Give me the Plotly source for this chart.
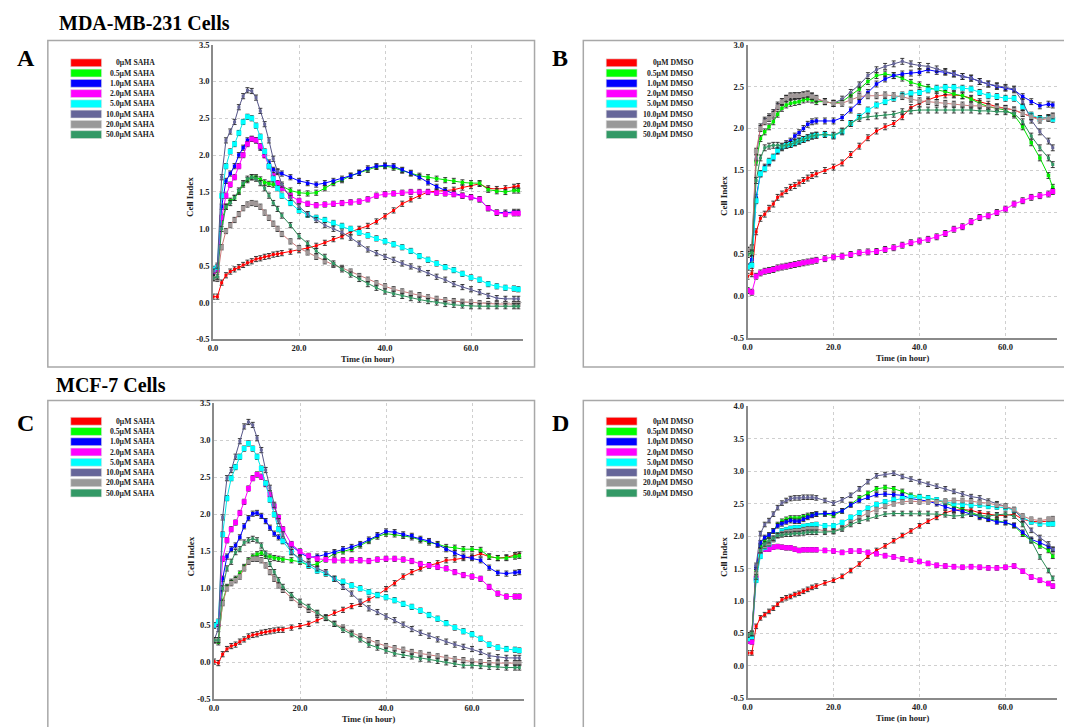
import plotly.graph_objects as go

W, H = 1072, 727
OFF = 8  # default page body margin

# ---------------- data ----------------
T = [0, 1, 2, 3, 4, 5, 6, 7, 8, 9, 10, 11, 12, 13, 14, 15, 16,
     18, 20, 22, 24, 26, 28, 30, 32, 34, 36, 38, 40, 42, 44, 46, 48, 50,
     52, 54, 56, 58, 60, 62, 64, 66, 68, 70, 71]

X_TICKS = [0, 20, 40, 60]
X_TICK_TEXT = ["0.0", "20.0", "40.0", "60.0"]

CONC = ["0", "0.5", "1.0", "2.0", "5.0", "10.0", "20.0", "50.0"]
SAHA_LABELS = [c + "μM SAHA" for c in CONC]
DMSO_LABELS = [c + "μM DMSO" for c in CONC]

# Panel A: MDA-MB-231, SAHA
A_0 = [0.08,0.08,0.27,0.37,0.42,0.45,0.48,0.51,0.54,0.56,0.59,0.60,0.62,0.63,0.65,0.66,0.67,
       0.69,0.71,0.74,0.77,0.81,0.86,0.90,0.96,1.00,1.04,1.10,1.17,1.25,1.34,1.40,1.45,1.50,
       1.51,1.52,1.53,1.56,1.58,1.61,1.55,1.54,1.55,1.57,1.58]
A_05 = [0.35,0.45,1.10,1.30,1.38,1.42,1.50,1.60,1.66,1.70,1.70,1.67,1.63,1.61,1.60,1.59,1.58,
        1.52,1.49,1.48,1.49,1.55,1.62,1.66,1.72,1.76,1.80,1.84,1.85,1.83,1.79,1.75,1.72,1.70,
        1.68,1.66,1.65,1.63,1.62,1.62,1.53,1.51,1.50,1.52,1.52]
A_1 = [0.40,0.45,1.30,1.65,1.75,1.85,2.00,2.10,2.20,2.22,2.20,2.10,2.00,1.90,1.80,1.77,1.75,
       1.70,1.65,1.62,1.60,1.62,1.65,1.68,1.72,1.76,1.82,1.85,1.86,1.85,1.80,1.76,1.70,1.63,
       1.57,1.52,1.48,1.45,1.43,1.40,1.28,1.22,1.22,1.23,1.23]
A_2 = [0.42,0.45,1.15,1.45,1.60,1.70,1.85,2.00,2.15,2.22,2.20,2.12,2.00,1.85,1.72,1.62,1.55,
       1.45,1.38,1.34,1.32,1.33,1.34,1.35,1.36,1.37,1.40,1.45,1.47,1.48,1.49,1.50,1.50,1.50,
       1.49,1.48,1.47,1.45,1.43,1.40,1.28,1.22,1.20,1.21,1.21]
A_5 = [0.45,0.48,1.45,1.85,2.05,2.15,2.30,2.45,2.52,2.50,2.40,2.25,2.05,1.85,1.68,1.55,1.45,
       1.35,1.25,1.19,1.15,1.12,1.08,1.04,1.00,0.95,0.91,0.87,0.83,0.79,0.75,0.70,0.63,0.58,
       0.53,0.48,0.44,0.39,0.34,0.31,0.25,0.22,0.20,0.19,0.18]
A_10 = [0.42,0.50,1.70,2.20,2.32,2.45,2.65,2.80,2.88,2.87,2.78,2.60,2.42,2.20,1.95,1.78,1.60,
        1.42,1.30,1.20,1.12,1.05,1.00,0.95,0.88,0.80,0.72,0.67,0.62,0.58,0.53,0.49,0.45,0.40,
        0.35,0.31,0.25,0.21,0.18,0.14,0.09,0.06,0.05,0.05,0.05]
A_20 = [0.33,0.32,0.75,0.97,1.05,1.12,1.20,1.28,1.33,1.35,1.34,1.30,1.22,1.15,1.07,1.00,0.93,
        0.83,0.74,0.68,0.62,0.56,0.51,0.47,0.42,0.36,0.31,0.26,0.22,0.18,0.15,0.12,0.10,0.07,
        0.05,0.03,0.02,0.01,0.00,-0.01,-0.02,-0.02,-0.02,-0.02,-0.02]
A_50 = [0.33,0.35,1.00,1.30,1.35,1.42,1.52,1.62,1.68,1.70,1.68,1.62,1.55,1.45,1.35,1.27,1.18,
        1.05,0.90,0.80,0.70,0.62,0.53,0.45,0.38,0.32,0.25,0.20,0.15,0.12,0.09,0.06,0.04,0.02,
        0.00,-0.02,-0.03,-0.04,-0.05,-0.05,-0.05,-0.05,-0.05,-0.05,-0.05]

# Panel B: MDA-MB-231, DMSO
B_0 = [0.24,0.27,0.77,0.93,0.98,1.05,1.10,1.18,1.22,1.26,1.30,1.32,1.35,1.38,1.41,1.44,1.46,
       1.50,1.54,1.59,1.69,1.79,1.89,1.97,2.02,2.06,2.14,2.25,2.30,2.34,2.38,2.40,2.40,2.39,
       2.36,2.32,2.29,2.26,2.24,2.22,2.18,2.14,2.12,2.13,2.14]
B_05 = [0.50,0.52,1.60,1.88,1.96,2.02,2.08,2.17,2.24,2.28,2.30,2.31,2.32,2.34,2.35,2.34,2.32,
        2.32,2.30,2.32,2.39,2.47,2.56,2.63,2.65,2.63,2.60,2.55,2.52,2.49,2.46,2.44,2.41,2.39,
        2.35,2.30,2.26,2.24,2.22,2.16,2.02,1.83,1.65,1.44,1.30]
B_1 = [0.35,0.44,1.18,1.46,1.54,1.59,1.65,1.73,1.77,1.82,1.85,1.91,1.95,2.00,2.05,2.08,2.09,
       2.09,2.09,2.13,2.22,2.32,2.43,2.53,2.59,2.63,2.65,2.66,2.67,2.70,2.68,2.67,2.65,2.62,
       2.60,2.56,2.53,2.50,2.48,2.46,2.38,2.32,2.27,2.29,2.28]
B_2 = [0.07,0.05,0.24,0.28,0.30,0.31,0.32,0.34,0.35,0.36,0.37,0.38,0.39,0.40,0.41,0.42,0.43,
       0.45,0.47,0.48,0.50,0.52,0.53,0.535,0.56,0.58,0.61,0.64,0.66,0.68,0.71,0.75,0.80,0.83,
       0.89,0.94,0.96,1.00,1.04,1.10,1.14,1.18,1.20,1.22,1.25]
B_5 = [0.35,0.37,1.14,1.46,1.52,1.61,1.66,1.74,1.78,1.80,1.81,1.83,1.85,1.87,1.89,1.91,1.92,
       1.93,1.91,1.96,2.06,2.14,2.22,2.28,2.32,2.36,2.40,2.42,2.43,2.46,2.48,2.49,2.49,2.48,
       2.47,2.43,2.39,2.38,2.36,2.36,2.26,2.16,2.12,2.13,2.11]
B_10 = [0.55,0.57,1.65,2.02,2.10,2.14,2.19,2.28,2.32,2.36,2.38,2.39,2.39,2.40,2.41,2.39,2.35,
        2.32,2.30,2.35,2.43,2.52,2.63,2.70,2.74,2.77,2.80,2.77,2.75,2.74,2.71,2.68,2.65,2.62,
        2.60,2.56,2.53,2.51,2.49,2.47,2.32,2.10,1.96,1.85,1.77]
B_20 = [0.55,0.58,1.73,2.00,2.08,2.12,2.17,2.26,2.32,2.36,2.39,2.39,2.39,2.40,2.41,2.38,2.36,
        2.32,2.30,2.30,2.34,2.38,2.39,2.39,2.40,2.39,2.38,2.35,2.33,2.32,2.31,2.30,2.29,2.28,
        2.27,2.27,2.26,2.25,2.24,2.22,2.18,2.14,2.10,2.12,2.15]
B_50 = [0.50,0.52,1.38,1.65,1.77,1.79,1.80,1.80,1.79,1.80,1.81,1.83,1.85,1.87,1.89,1.91,1.92,
        1.93,1.92,1.97,2.06,2.12,2.14,2.15,2.16,2.17,2.20,2.21,2.22,2.22,2.22,2.22,2.22,2.22,
        2.22,2.21,2.21,2.20,2.20,2.18,2.08,1.91,1.77,1.65,1.57]

# Panel C: MCF-7, SAHA
C_0 = [0.01,-0.01,0.11,0.18,0.22,0.24,0.28,0.31,0.35,0.37,0.38,0.40,0.41,0.42,0.43,0.44,0.44,
       0.47,0.49,0.52,0.57,0.61,0.67,0.71,0.76,0.79,0.85,0.91,0.99,1.07,1.16,1.22,1.27,1.31,
       1.34,1.38,1.39,1.41,1.43,1.47,1.43,1.41,1.42,1.45,1.46]
C_05 = [0.30,0.27,0.82,1.02,1.09,1.13,1.20,1.29,1.38,1.43,1.46,1.48,1.44,1.43,1.41,1.40,1.39,
        1.38,1.36,1.31,1.33,1.40,1.47,1.50,1.53,1.58,1.64,1.70,1.74,1.73,1.71,1.69,1.65,1.62,
        1.60,1.56,1.55,1.53,1.53,1.52,1.43,1.41,1.41,1.43,1.44]
C_1 = [0.50,0.53,1.13,1.43,1.53,1.58,1.69,1.84,1.95,2.01,2.02,1.98,1.91,1.82,1.74,1.69,1.64,
       1.58,1.48,1.42,1.43,1.46,1.49,1.53,1.56,1.60,1.66,1.72,1.77,1.76,1.73,1.71,1.67,1.64,
       1.59,1.53,1.48,1.43,1.41,1.38,1.28,1.21,1.20,1.21,1.22]
C_2 = [0.50,0.53,1.40,1.65,1.80,1.89,2.02,2.17,2.35,2.49,2.54,2.51,2.41,2.27,2.11,1.96,1.80,
       1.60,1.50,1.44,1.40,1.39,1.38,1.38,1.38,1.38,1.37,1.39,1.40,1.40,1.39,1.37,1.33,1.31,
       1.29,1.27,1.22,1.18,1.16,1.13,1.02,0.93,0.89,0.89,0.89]
C_5 = [0.50,0.55,1.73,2.22,2.49,2.64,2.78,2.89,2.96,2.89,2.78,2.62,2.42,2.20,2.00,1.80,1.64,
       1.49,1.38,1.31,1.24,1.20,1.13,1.09,1.04,1.00,0.95,0.91,0.88,0.84,0.79,0.75,0.70,0.64,
       0.59,0.53,0.47,0.42,0.38,0.32,0.24,0.20,0.18,0.17,0.16]
C_10 = [0.30,0.45,1.96,2.49,2.60,2.78,2.99,3.19,3.25,3.21,3.03,2.87,2.60,2.36,2.13,1.91,1.73,
        1.49,1.40,1.33,1.27,1.22,1.13,1.02,0.93,0.82,0.73,0.68,0.62,0.57,0.51,0.45,0.40,0.36,
        0.31,0.28,0.24,0.21,0.18,0.14,0.09,0.07,0.06,0.06,0.06]
C_20 = [0.30,0.30,0.80,1.00,1.07,1.11,1.16,1.27,1.36,1.40,1.40,1.38,1.31,1.22,1.13,1.04,0.98,
        0.87,0.78,0.71,0.66,0.60,0.52,0.47,0.40,0.35,0.30,0.26,0.22,0.19,0.17,0.14,0.12,0.10,
        0.08,0.06,0.04,0.03,0.01,0.00,-0.01,-0.01,-0.01,-0.01,-0.01]
C_50 = [0.30,0.30,1.00,1.27,1.36,1.49,1.53,1.62,1.65,1.67,1.65,1.58,1.47,1.33,1.22,1.11,1.02,
        0.91,0.82,0.75,0.67,0.60,0.52,0.44,0.38,0.31,0.24,0.20,0.16,0.12,0.10,0.08,0.05,0.04,
        0.02,0.00,-0.02,-0.04,-0.04,-0.05,-0.06,-0.06,-0.07,-0.07,-0.07]

# Panel D: MCF-7, DMSO
D_0 = [0.20,0.20,0.61,0.74,0.79,0.84,0.89,0.95,1.02,1.05,1.07,1.10,1.12,1.15,1.18,1.21,1.23,
       1.28,1.32,1.38,1.47,1.57,1.69,1.78,1.85,1.93,2.01,2.08,2.16,2.23,2.29,2.36,2.40,2.41,
       2.40,2.36,2.34,2.32,2.32,2.34,2.26,2.23,2.22,2.23,2.24]
D_05 = [0.45,0.48,1.45,1.85,1.93,2.01,2.08,2.18,2.23,2.26,2.28,2.28,2.28,2.30,2.32,2.33,2.34,
        2.34,2.32,2.39,2.49,2.59,2.66,2.73,2.75,2.73,2.69,2.63,2.61,2.59,2.56,2.51,2.46,2.41,
        2.36,2.31,2.27,2.24,2.21,2.16,2.03,1.93,1.85,1.78,1.69]
D_1 = [0.42,0.45,1.52,1.90,1.98,2.02,2.08,2.16,2.19,2.22,2.24,2.23,2.23,2.26,2.29,2.32,2.34,
       2.35,2.35,2.39,2.48,2.55,2.60,2.64,2.65,2.64,2.63,2.58,2.56,2.54,2.50,2.45,2.41,2.38,
       2.34,2.29,2.26,2.22,2.21,2.17,2.06,1.95,1.90,1.84,1.79]
D_2 = [0.38,0.37,1.35,1.75,1.80,1.80,1.83,1.84,1.83,1.82,1.82,1.80,1.78,1.79,1.79,1.79,1.79,
       1.78,1.77,1.75,1.77,1.77,1.75,1.73,1.70,1.68,1.65,1.63,1.61,1.58,1.55,1.54,1.53,1.52,
       1.53,1.52,1.51,1.51,1.52,1.54,1.46,1.37,1.32,1.27,1.23]
D_5 = [0.42,0.45,1.32,1.69,1.83,1.88,1.95,2.02,2.08,2.10,2.12,2.13,2.13,2.15,2.16,2.17,2.18,
       2.16,2.16,2.21,2.29,2.36,2.43,2.49,2.53,2.56,2.58,2.60,2.60,2.59,2.56,2.53,2.50,2.49,
       2.48,2.48,2.46,2.45,2.44,2.40,2.29,2.22,2.19,2.19,2.19]
D_10 = [0.48,0.50,1.55,2.04,2.18,2.24,2.34,2.44,2.51,2.55,2.58,2.59,2.59,2.60,2.60,2.60,2.59,
        2.55,2.51,2.56,2.63,2.73,2.84,2.93,2.95,2.97,2.92,2.88,2.84,2.80,2.77,2.73,2.69,2.65,
        2.61,2.59,2.54,2.50,2.46,2.41,2.26,2.09,1.98,1.88,1.80]
D_20 = [0.48,0.50,1.42,1.78,1.85,1.89,1.95,2.01,2.04,2.06,2.07,2.08,2.08,2.10,2.11,2.11,2.11,
        2.08,2.08,2.13,2.21,2.28,2.36,2.41,2.46,2.50,2.53,2.54,2.53,2.53,2.53,2.54,2.55,2.55,
        2.54,2.52,2.51,2.48,2.46,2.41,2.31,2.26,2.24,2.26,2.27]
D_50 = [0.48,0.50,1.37,1.78,1.88,1.93,1.97,2.01,2.02,2.03,2.03,2.04,2.04,2.05,2.06,2.06,2.06,
        2.06,2.07,2.11,2.18,2.23,2.27,2.31,2.34,2.35,2.35,2.35,2.35,2.35,2.34,2.33,2.31,2.32,
        2.34,2.32,2.31,2.33,2.34,2.31,2.18,1.93,1.68,1.47,1.35]

A_Y_TICKS = [-0.5, 0.0, 0.5, 1.0, 1.5, 2.0, 2.5, 3.0, 3.5]
B_Y_TICKS = [-0.5, 0.0, 0.5, 1.0, 1.5, 2.0, 2.5, 3.0]
C_Y_TICKS = [-0.5, 0.0, 0.5, 1.0, 1.5, 2.0, 2.5, 3.0, 3.5]
D_Y_TICKS = [-0.5, 0.0, 0.5, 1.0, 1.5, 2.0, 2.5, 3.0, 3.5, 4.0]

# ---------------- style ----------------
MARK_COLORS = ["#ff0000", "#00ee00", "#0000ff", "#ff00ff", "#00ffff", "#666699", "#a09898", "#339966"]
LINE_COLORS = ["#ff0000", "#00dd00", "#0000ff", "#ff00ff", "#00e5e5", "#555588", "#cc7777", "#2e8b57"]
SWATCH_COLORS = ["#ff0000", "#00ff00", "#0000ff", "#ff00ff", "#00ffff", "#666699", "#999999", "#339966"]
MSIZE = [3, 3.5, 3.5, 5, 5, 3, 4.5, 3]
SERIF = "Liberation Serif"

panels = [
    dict(letter="A", data=[A_0, A_05, A_1, A_2, A_5, A_10, A_20, A_50], labels=SAHA_LABELS,
         yticks=A_Y_TICKS, box=(209, 520, 40, 339), frame=(43, 36, 532, 367),
         sw=(66, 97), lab_x=153, leg_y=58.5, letter_pos=(21, 54)),
    dict(letter="B", data=[B_0, B_05, B_1, B_2, B_5, B_10, B_20, B_50], labels=DMSO_LABELS,
         yticks=B_Y_TICKS, box=(746, 1057, 40, 338), frame=(581, 36, 1066, 367),
         sw=(604, 635), lab_x=693, leg_y=58.5, letter_pos=(558, 54)),
    dict(letter="C", data=[C_0, C_05, C_1, C_2, C_5, C_10, C_20, C_50], labels=SAHA_LABELS,
         yticks=C_Y_TICKS, box=(210, 521, 404, 704), frame=(43, 401, 532, 740),
         sw=(66, 97), lab_x=153, leg_y=422, letter_pos=(21, 424)),
    dict(letter="D", data=[D_0, D_05, D_1, D_2, D_5, D_10, D_20, D_50], labels=DMSO_LABELS,
         yticks=D_Y_TICKS, box=(746, 1057, 407, 703), frame=(581, 401, 1066, 740),
         sw=(604, 635), lab_x=693, leg_y=422, letter_pos=(558, 424)),
]

FW, FH = W - OFF, H - OFF


def fx(px):
    return (px - OFF) / FW


def fy(py):
    return 1 - (py - OFF) / FH


fig = go.Figure()
shapes = []
annotations = []
layout_axes = {}

for k, p in enumerate(panels):
    n = "" if k == 0 else str(k + 1)
    xa, ya = "x" + n, "y" + n
    x0, x1, top, bot = p["box"]

    for i, vals in enumerate(p["data"]):
        fig.add_trace(go.Scatter(
            x=T, y=vals, xaxis=xa, yaxis=ya, mode="lines+markers",
            line=dict(color=LINE_COLORS[i], width=1),
            marker=dict(symbol="square", size=MSIZE[i], color=MARK_COLORS[i], line=dict(width=0)),
            error_y=dict(type="constant", value=0.035, color="#262626", thickness=0.9, width=2),
            showlegend=False, hoverinfo="skip"))

    yt = p["yticks"]
    layout_axes["xaxis" + n] = dict(
        domain=[fx(x0), fx(x1)], anchor=ya, range=[0, 72],
        tickvals=X_TICKS, ticktext=X_TICK_TEXT, ticks="", showgrid=True,
        gridcolor="#cfcfcf", griddash="dot", gridwidth=1, zeroline=False,
        showline=True, linecolor="#8a8a8a", linewidth=1.5,
        tickfont=dict(family=SERIF, size=8.5, color="#222", weight="bold"))
    layout_axes["yaxis" + n] = dict(
        domain=[fy(bot), fy(top)], anchor=xa, range=[yt[0], yt[-1]],
        tickvals=yt, ticktext=["%.1f" % v for v in yt], ticks="", showgrid=True,
        gridcolor="#cfcfcf", griddash="dot", gridwidth=1, zeroline=False,
        showline=True, linecolor="#8a8a8a", linewidth=1.5,
        tickfont=dict(family=SERIF, size=8.5, color="#222", weight="bold"))

    # panel frame
    fl, ft, fr, fb = p["frame"]
    shapes.append(dict(type="rect", xref="paper", yref="paper",
                       x0=fx(fl), x1=fx(fr), y0=fy(fb), y1=fy(ft),
                       line=dict(color="#a8a8a8", width=1.5), fillcolor="rgba(0,0,0,0)", layer="below"))
    # legend swatches + labels
    for i, lab in enumerate(p["labels"]):
        cy = p["leg_y"] + i * 10.4
        shapes.append(dict(type="rect", xref="paper", yref="paper",
                           x0=fx(p["sw"][0]), x1=fx(p["sw"][1]), y0=fy(cy + 4), y1=fy(cy - 4),
                           line=dict(color="#dddddd", width=0.6), fillcolor=SWATCH_COLORS[i]))
        annotations.append(dict(text=lab, xref="paper", yref="paper", x=fx(p["lab_x"]), y=fy(cy),
                                xanchor="right", yanchor="middle", showarrow=False,
                                font=dict(family=SERIF, size=7.7, color="#222", weight="bold")))
    # axis titles
    annotations.append(dict(text="Cell Index", xref="paper", yref="paper",
                            x=fx(x0 - 23), y=fy((top + bot) / 2 + 5), textangle=-90,
                            xanchor="center", yanchor="middle", showarrow=False,
                            font=dict(family=SERIF, size=9, color="#222", weight="bold")))
    annotations.append(dict(text="Time (in hour)", xref="paper", yref="paper",
                            x=fx((x0 + x1) / 2), y=fy(bot + 19.5),
                            xanchor="center", yanchor="middle", showarrow=False,
                            font=dict(family=SERIF, size=8.5, color="#222", weight="bold")))
    # panel letter
    lx, ly = p["letter_pos"]
    annotations.append(dict(text=p["letter"], xref="paper", yref="paper", x=fx(lx), y=fy(ly),
                            xanchor="center", yanchor="middle", showarrow=False,
                            font=dict(family=SERIF, size=24, color="#000", weight="bold")))

# section titles
annotations.append(dict(text="MDA-MB-231 Cells", xref="paper", yref="paper", x=fx(52), y=fy(18),
                        xanchor="left", yanchor="middle", showarrow=False,
                        font=dict(family=SERIF, size=20, color="#000", weight="bold")))
annotations.append(dict(text="MCF-7 Cells", xref="paper", yref="paper", x=fx(49), y=fy(385),
                        xanchor="left", yanchor="middle", showarrow=False,
                        font=dict(family=SERIF, size=20, color="#000", weight="bold")))

fig.update_layout(
    width=FW, height=FH, margin=dict(l=0, r=0, t=0, b=0),
    paper_bgcolor="white", plot_bgcolor="white",
    shapes=shapes, annotations=annotations, showlegend=False,
    **layout_axes)

fig.write_html("out.html")
